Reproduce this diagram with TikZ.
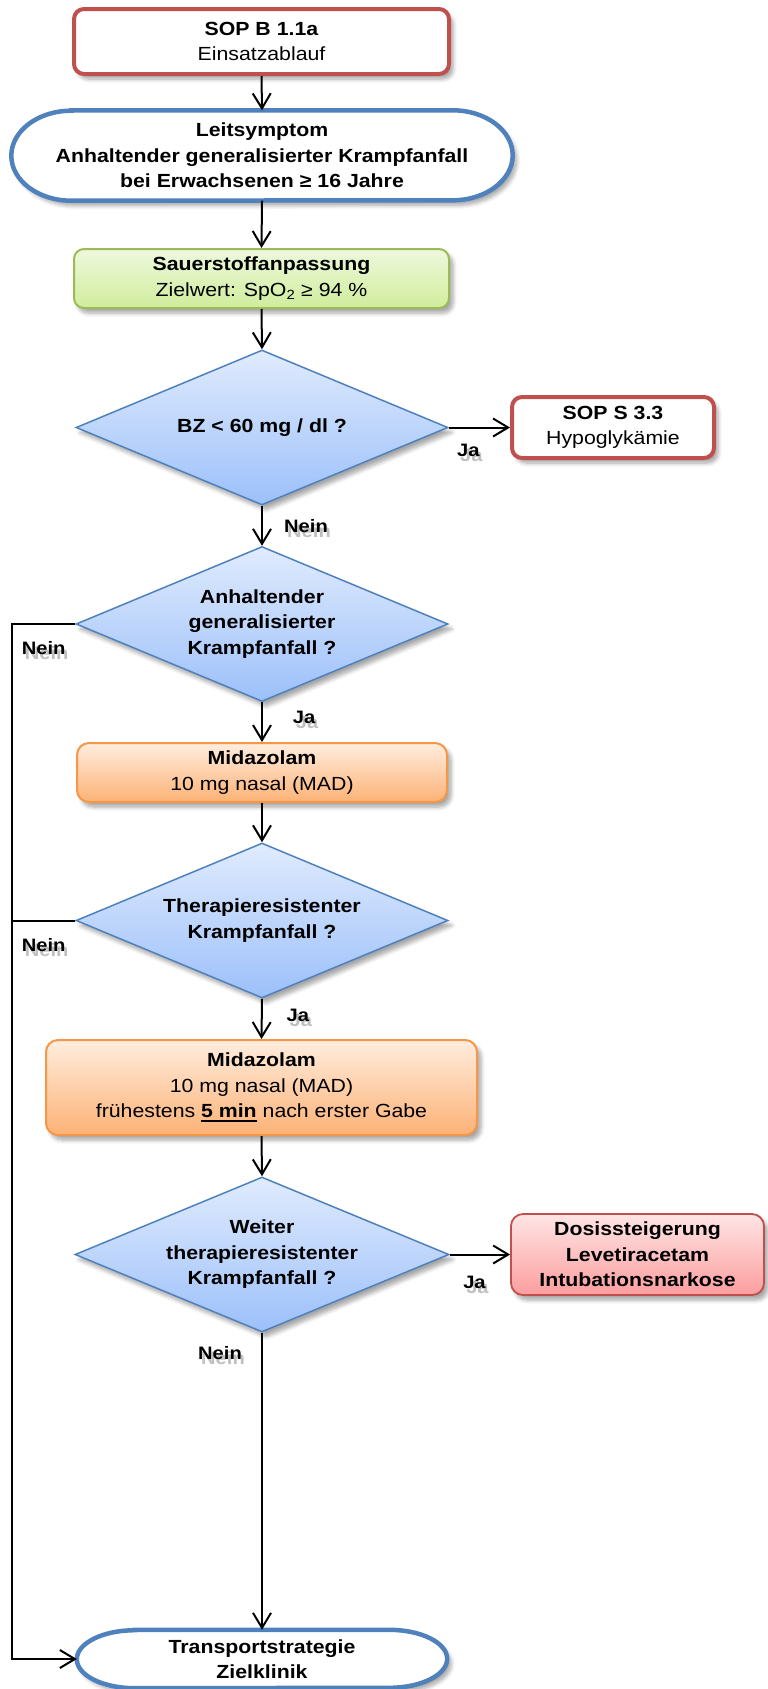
\documentclass[tikz,border=0pt]{standalone}
\usepackage{fontspec}
\setmainfont{Liberation Sans}[FakeStretch=1.12]
\usetikzlibrary{arrows.meta,shapes.geometric,shadows.blur,backgrounds}

\definecolor{randrot}{RGB}{192,80,77}
\definecolor{randblau}{RGB}{79,129,189}
\definecolor{randgruen}{RGB}{155,187,89}
\definecolor{randorange}{RGB}{247,150,70}

\newcommand\mitschatten[1]{\rlap{\smash{\hspace{3pt}\raisebox{-5pt}{\color{black!25}#1}}}#1}
\newcommand\dickunter[1]{\sbox0{#1}\rlap{\rule[-4.5pt]{\wd0}{2.5pt}}\usebox0}
\newcommand\termrand[3]{%
  \draw[termlinie] ([xshift=#2]#1.north west) -- ([xshift=-#2]#1.north east)
    arc[start angle=90, end angle=-90, x radius=#2, y radius=#3]
    -- ([xshift=#2]#1.south west)
    arc[start angle=270, end angle=90, x radius=#2, y radius=#3] -- cycle;}

\tikzset{
  txt/.style={font=\fontsize{19}{25.5}\selectfont, align=center, inner sep=0pt},
  schatten/.style={blur shadow={shadow xshift=4pt, shadow yshift=-5pt,
      shadow blur radius=4pt, shadow blur steps=6, shadow opacity=35}},
  rotbox/.style={txt, rectangle, rounded corners=10pt, draw=randrot, line width=4pt, fill=white, schatten},
  gruenbox/.style={txt, rectangle, rounded corners=10pt, draw=randgruen, line width=2pt,
      top color={rgb,255:red,238;green,248;blue,221}, bottom color={rgb,255:red,208;green,237;blue,156}, schatten},
  orangebox/.style={txt, rectangle, rounded corners=12pt, draw=randorange, line width=2pt,
      top color={rgb,255:red,255;green,237;blue,222}, bottom color={rgb,255:red,252;green,178;blue,118}, schatten},
  rosabox/.style={txt, font=\fontsize{19}{25.5}\selectfont\bfseries, rectangle, rounded corners=12pt,
      draw=randrot, line width=1.8pt,
      top color={rgb,255:red,255;green,229;blue,229}, bottom color={rgb,255:red,252;green,158;blue,158}, schatten},
  raute/.style={txt, font=\fontsize{19}{25.5}\selectfont\bfseries, diamond, aspect=2.4,
      minimum width=372pt, minimum height=155pt, draw=randblau, line width=1.5pt,
      top color={rgb,255:red,224;green,235;blue,253}, bottom color={rgb,255:red,156;green,192;blue,250}, schatten},
  term/.style={txt, font=\fontsize{19}{25.5}\selectfont\bfseries, rectangle},
  termlinie/.style={draw=randblau, line width=4.5pt, fill=white, schatten},
  linie/.style={line width=2pt},
  pfeil/.style={linie, ->},
  lbl/.style={font=\fontsize{18}{20}\selectfont\bfseries, inner sep=0pt}
}

\begin{document}
\begin{tikzpicture}[x=1pt, y=-1pt, >={Straight Barb[length=15pt,width=18pt]}]
\useasboundingbox (0,0) rectangle (768,1689);

\node[rotbox, minimum width=375pt, minimum height=65pt] (sopb) at (261.5,41.5) {\textbf{SOP B 1.1a}\\Einsatzablauf};
\node[term, minimum width=501pt, minimum height=90pt] (leit) at (262,155.5)
  {Leitsymptom\\Anhaltender generalisierter Krampfanfall\\bei Erwachsenen ≥ 16 Jahre};
\node[gruenbox, minimum width=375pt, minimum height=59pt] (o2) at (261.5,278.5)
  {\textbf{Sauerstoffanpassung}\\Zielwert: SpO\textsubscript{2} ≥ 94 \%};
\node[raute] (bz) at (262,427.5) {BZ < 60 mg / dl ?};
\node[rotbox, minimum width=202pt, minimum height=61pt] (hypo) at (613,427.5) {\textbf{SOP S 3.3}\\Hypoglykämie};
\node[raute] (krampf) at (262,624) {Anhaltender\\generalisierter\\Krampfanfall ?};
\node[orangebox, minimum width=370pt, minimum height=59pt] (mida1) at (262,772.5)
  {\textbf{Midazolam}\\10 mg nasal (MAD)};
\node[raute] (thera) at (262,920.5) {Therapieresistenter\\Krampfanfall ?};
\node[orangebox, minimum width=431pt, minimum height=95pt] (mida2) at (261.5,1087.5)
  {\textbf{Midazolam}\\10 mg nasal (MAD)\\frühestens \dickunter{\textbf{5 min}} nach erster Gabe};
\node[raute, minimum width=374pt] (weiter) at (262,1254.5) {Weiter\\therapieresistenter\\Krampfanfall ?};
\node[rosabox, minimum width=253pt, minimum height=81pt] (dosis) at (637.5,1254.5)
  {Dosissteigerung\\Levetiracetam\\Intubationsnarkose};
\node[term, minimum width=370pt, minimum height=58pt] (ziel) at (262,1659) {Transportstrategie\\Zielklinik};
\coordinate (rail) at (12,624);

\begin{scope}[on background layer]
\termrand{leit}{60pt}{45pt}
\termrand{ziel}{58pt}{29pt}
\end{scope}

\draw[pfeil] (sopb.south) -- (leit.north);
\draw[pfeil] (leit.south) -- (o2.north);
\draw[pfeil] (o2.south) -- (bz.north);
\draw[pfeil] (bz.east) -- node[lbl, pos=0.32, yshift=-23pt] {\mitschatten{Ja}} (hypo.west);
\draw[pfeil] (bz.south) -- node[lbl, xshift=44pt] {\mitschatten{Nein}} (krampf.north);
\draw[pfeil] (krampf.west) -- node[lbl, yshift=-24pt] {\mitschatten{Nein}} (rail) |- (ziel.west);
\draw[pfeil] (krampf.south) -- node[lbl, pos=0.39, xshift=42pt] {\mitschatten{Ja}} (mida1.north);
\draw[pfeil] (mida1.south) -- (thera.north);
\draw[linie] (thera.west) -- node[lbl, yshift=-25pt] {\mitschatten{Nein}} (thera.west -| rail);
\draw[pfeil] (thera.south) -- node[lbl, pos=0.41, xshift=36pt] {\mitschatten{Ja}} (mida2.north);
\draw[pfeil] (mida2.south) -- (weiter.north);
\draw[pfeil] (weiter.east) -- node[lbl, pos=0.41, yshift=-28pt] {\mitschatten{Ja}} (dosis.west);
\draw[pfeil] (weiter.south) -- node[lbl, pos=0.07, xshift=-42pt] {\mitschatten{Nein}} (ziel.north);
\end{tikzpicture}
\end{document}
